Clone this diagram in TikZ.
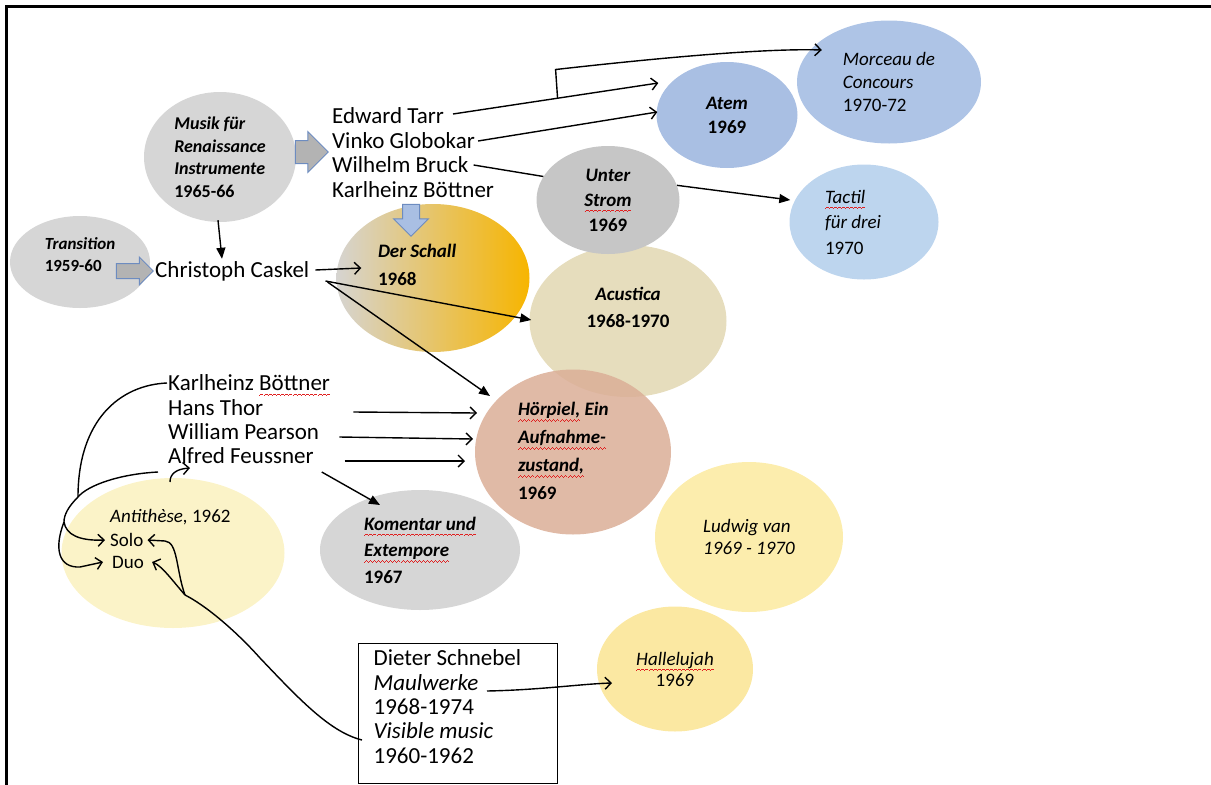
\documentclass[tikz,border=0pt]{standalone}
\usepackage{fontspec}
\setmainfont{Carlito}
\usetikzlibrary{shapes.geometric, shapes.arrows, arrows.meta, positioning, calc}

\definecolor{bubblegray}{HTML}{D6D6D6}
\definecolor{stromgray}{HTML}{C6C6C6}
\definecolor{schallgray}{HTML}{D6D4D1}
\definecolor{schallorange}{HTML}{F7B500}
\definecolor{atemblue}{HTML}{A9BFE3}
\definecolor{morceaublue}{HTML}{AEC4E6}
\definecolor{tactilblue}{HTML}{BDD5EE}
\definecolor{acusticabeige}{HTML}{E6DDBD}
\definecolor{hoerpielrose}{HTML}{DBAE97}
\definecolor{antiyellow}{HTML}{FBF3C8}
\definecolor{ludwigyellow}{HTML}{FCEDAD}
\definecolor{hallelujahyellow}{HTML}{FBE8A2}
\definecolor{arrowfill}{HTML}{B3B3B3}
\definecolor{arrowedge}{HTML}{6D8CC0}
\definecolor{spellred}{HTML}{E02020}

% red wavy underline, like a spell checker mark
\newcommand\wavebit{\rule[-6pt]{1pt}{0.9pt}\rule[-5.2pt]{1pt}{0.9pt}\rule[-4.4pt]{1pt}{0.9pt}\rule[-5.2pt]{1pt}{0.9pt}}
\newcommand\spellerr[1]{\setbox0\hbox{#1}\rlap{\copy0}\smash{\hbox to\wd0{\color{spellred}\xleaders\hbox{\wavebit}\hfill}}}

\begin{document}
\begin{tikzpicture}[x=1pt, y=-1pt,
  bubble/.style={ellipse, inner sep=0pt, align=flush left},
  boldtext/.style={font=\fontsize{19}{#1}\selectfont\bfseries},
  thintext/.style={font=\fontsize{19}{#1}\selectfont},
  who/.style={anchor=west, inner sep=0pt, text height=16pt, text depth=2pt, font=\fontsize{23}{27}\selectfont},
  small/.style={anchor=west, inner sep=0pt, font=\fontsize{19}{23}\selectfont},
  bigarrow/.style={single arrow, draw=arrowedge, fill=arrowfill, line width=1pt, inner xsep=0pt},
  hand/.style={-{Straight Barb[length=6pt,width=12pt]}, line width=1.4pt},
  shot/.style={-{Triangle[length=11pt,width=9pt]}, line width=1.4pt},
  plainline/.style={line width=1.4pt}
]
\useasboundingbox (0,0) rectangle (1211,785);
\draw[line width=3pt] (6,785) -- (6,6) -- (1211,6);

% ellipses, back to front
\node[bubble, fill=bubblegray, minimum width=152pt, minimum height=130pt, font=\fontsize{18}{22.5}\selectfont\bfseries] (musik) at (220,157) {\textit{Musik für}\\\textit{Renaissance}\\\textit{Instrumente}\\1965-66};
\node[bubble, fill=bubblegray, minimum width=140pt, minimum height=92pt, font=\fontsize{17}{22}\selectfont\bfseries] (transition) at (80,262) {\textit{Transition}\\1959-60\\[-8pt]\mbox{}};
\node[bubble, left color=schallgray, right color=schallorange, minimum width=193pt, minimum height=148pt, boldtext=28] (schall) at (433,278) {\textit{Der Schall}\\1968\\[-2pt]\hspace*{110pt}};
\node[bubble, fill=acusticabeige, minimum width=197pt, minimum height=152pt, align=center, boldtext=27] (acustica) at (628,321) {\textit{Acustica}\\1968-1970\\[0pt]\mbox{}};
\node[bubble, fill=stromgray, minimum width=143pt, minimum height=108pt, align=center, boldtext=25] (unter) at (608,200) {\textit{Unter}\\\textit{\spellerr{Strom}}\\1969};
\node[bubble, fill=atemblue, minimum width=141pt, minimum height=106pt, align=center, boldtext=24] (atem) at (727,115) {\textit{Atem}\\1969};
\node[bubble, fill=morceaublue, minimum width=184pt, minimum height=123pt, thintext=23] (morceau) at (889,82) {\textit{Morceau de}\\\textit{Concours}\\1970-72};
\node[bubble, fill=tactilblue, minimum width=149pt, minimum height=115pt, thintext=25.5] (tactil) at (864,222) {\textit{\spellerr{Tactil}}\\\textit{für drei}\\1970\\[-25.5pt]\hspace*{78pt}};
\node[bubble, fill=hoerpielrose, fill opacity=0.85, text opacity=1, minimum width=196pt, minimum height=165pt, boldtext=28] (hoerpiel) at (573,452) {\textit{\spellerr{Hörpiel,} Ein}\\\textit{\spellerr{Aufnahme-}}\\\textit{\spellerr{zustand,}}\\1969\\[-26pt]\hspace*{110pt}};
\node[bubble, fill=bubblegray, minimum width=200pt, minimum height=120pt, boldtext=26.5] (komentar) at (420,550) {\textit{\spellerr{Komentar und}}\\\textit{\spellerr{Extempore}}\\1967};
\node[bubble, fill=antiyellow, minimum width=223pt, minimum height=150pt] (antithese) at (173,553) {};
\node[bubble, fill=ludwigyellow, minimum width=188pt, minimum height=150pt, thintext=22] (ludwig) at (749,537) {\textit{Ludwig van}\\\textit{1969 - 1970}};
\node[bubble, fill=hallelujahyellow, minimum width=156pt, minimum height=125pt, align=center, thintext=21] (hallelujah) at (675,669) {\textit{\spellerr{Hallelujah}}\\1969};

% block arrows
\node[bigarrow, inner ysep=7pt, minimum height=37pt, single arrow head extend=6.5pt] (pushcaskel) at (131,271) {};
\node[bigarrow, inner ysep=11pt, minimum height=33pt, single arrow head extend=9pt] (pushnames) at (306,152) {};
\node[bigarrow, fill=atemblue, inner sep=8pt, shape border rotate=270, minimum height=32pt, single arrow head extend=9pt] (pushschall) at (411,216) {};

% players and texts
\node[who] (caskel) at (155,270) {Christoph Caskel};
\node[who] (tarr) at (332,116) {Edward Tarr};
\node[who] (globokar) at (332,141) {Vinko Globokar};
\node[who] (bruck) at (332,165) {Wilhelm Bruck};
\node[who] (boettner) at (332,190) {Karlheinz Böttner};
\node[who] (boettnertwo) at (168,383) {Karlheinz \spellerr{Böttner}};
\node[who] (hans) at (168,408) {Hans Thor};
\node[who] (pearson) at (168,432) {William Pearson};
\node[who] (feussner) at (168,456) {Alfred Feussner};
\node[small] (antilbl) at (110,517) {\textit{Antithèse,} 1962};
\node[small] (solo) at (110,540) {Solo};
\node[small] (duo) at (112,562) {Duo};
\node[draw, line width=1.3pt, anchor=north west, minimum width=199pt, minimum height=140pt, inner xsep=15pt, text width=169pt, align=flush left, font=\fontsize{23}{24.3}\selectfont] (schnebel) at (358,643) {Dieter Schnebel\\\textit{Maulwerke}\\1968-1974\\\textit{Visible music}\\1960-1962\\[-10pt]\mbox{}};

% connectors
\draw[shot] ($(musik.south)+(-2,-2)$) -- ($(caskel.north west)+(67,-2)$);
\coordinate (tarrtip) at ($(atem.west)+(2,-32)$);
\coordinate (morceautip) at ($(morceau.west)+(25,-32)$);
\draw[hand] ($(tarr.east)+(9,-2)$) -- (tarrtip);
\coordinate (tarrfork) at ($(tarr.east)!0.53!(tarrtip)$);
\draw[hand] (tarrfork) -- ++(-2,-29) .. controls (640,60) and (760,48) .. (morceautip);
\draw[hand] ($(globokar.east)+(3,0)$) -- ($(atem.west)+(1,-3)$);
\draw[plainline] ($(bruck.east)+(5,0)$) -- (unter.160);
\draw[shot] (unter.12) -- ($(tactil.west)+(1,-22)$);
\draw[hand] ($(caskel.east)+(6,0)$) -- ($(schall.west)+(25,-10)$);
\draw[shot] ($(caskel.east)+(16,11)$) -- ($(acustica.west)+(2,-1)$);
\draw[shot] ($(caskel.east)+(18,12)$) -- ($(hoerpiel.center)+(-83,-56)$);
\draw[hand] ($(hans.east)+(90,4)$) -- ($(hoerpiel.center)+(-96,-39)$);
\draw[hand] ($(pearson.east)+(20,5)$) -- ($(hoerpiel.center)+(-100,-13)$);
\draw[hand] ($(feussner.east)+(31,5)$) -- ($(hoerpiel.center)+(-108,9)$);
\draw[shot] ($(feussner.east)+(8,16)$) -- ($(komentar.center)+(-40,-45)$);
\draw[hand] ($(schnebel.north west)+(129,48)$) .. controls (540,690) and (580,684) .. ($(hallelujah.center)+(-63,14)$);

% hand drawn links round Antithese
\coordinate (antjoin) at ($(antithese.center)+(-95,-56)$);
\coordinate (antsplit) at ($(antithese.center)+(-109,-31)$);
\draw[plainline] ($(boettnertwo.west)+(-1,0)$) .. controls (120,385) and (78,420) .. (antjoin);
\draw[plainline] ($(feussner.west)+(-10,16)$) .. controls (120,474) and (88,485) .. (antjoin) .. controls (68,507) and (64,515) .. (antsplit);
\draw[hand] (antsplit) .. controls (66,535) and (80,541) .. ($(solo.west)+(-5,0)$);
\draw[hand] (antsplit) .. controls (54,548) and (58,568) .. (80,567) -- ($(duo.west)+(-9,0)$);
\draw[hand] ($(antithese.center)+(-3,-71)$) .. controls (170,474) and (176,469) .. ($(feussner.west)+(22,12)$);
\coordinate (visfork) at ($(antithese.center)+(12,42)$);
\draw[plainline] ($(schnebel.north west)+(4,97)$) .. controls (330,732) and (300,700) .. (260,658) .. controls (235,630) and (205,605) .. (visfork);
\draw[hand] (visfork) .. controls (172,580) and (162,566) .. ($(duo.east)+(8,0)$);
\draw[hand] (visfork) .. controls (176,570) and (178,542) .. (165,541) -- ($(solo.east)+(4,0)$);
\end{tikzpicture}
\end{document}
